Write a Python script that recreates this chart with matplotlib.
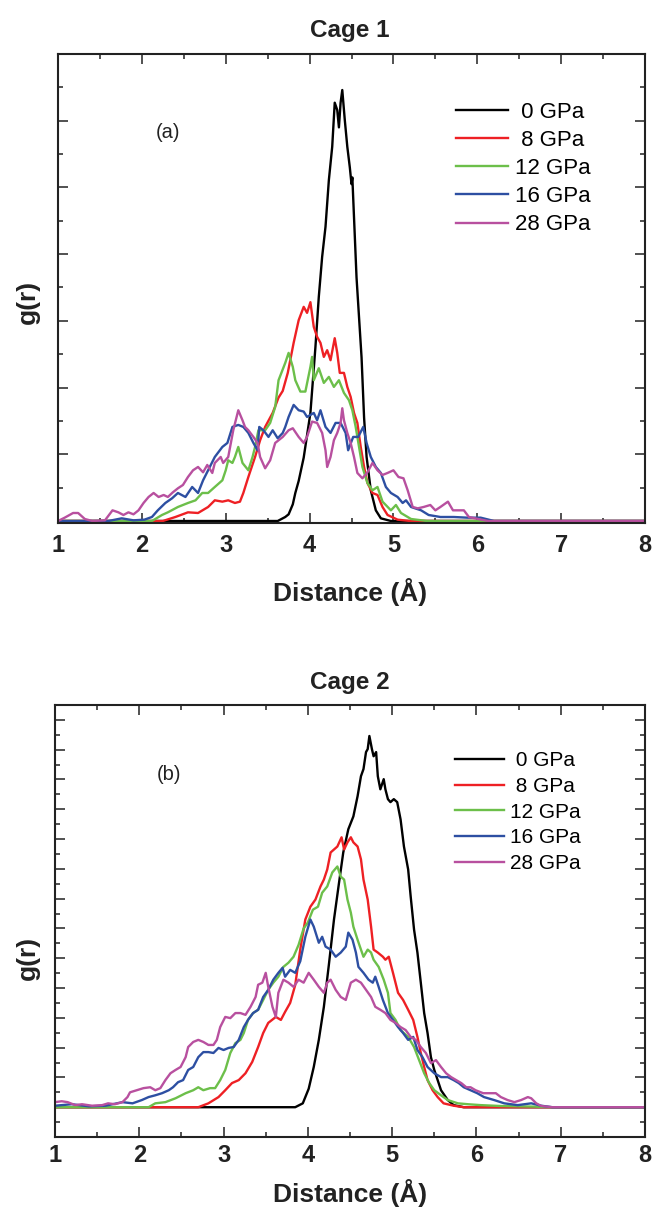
import matplotlib
matplotlib.use('Agg')
from matplotlib import pyplot as plt
from matplotlib.ticker import MultipleLocator

plt.rcParams['font.family'] = ['Liberation Sans', 'DejaVu Sans']

labels = [' 0 GPa', ' 8 GPa', '12 GPa', '16 GPa', '28 GPa']
colors = ['black', '#ee2024', '#6cbf4a', '#2d4fa2', '#b8509f']
xticks = [1, 2, 3, 4, 5, 6, 7, 8]

# cage 1: (distance in A, g(r))
cage1_0 = [(1.0, 0), (3.62, 0), (3.71, 0.06), (3.75, 0.1), (3.8, 0.25), (3.83, 0.42), (3.87, 0.6),
           (3.93, 0.95), (4.01, 1.62), (4.07, 2.61), (4.11, 3.36), (4.15, 3.96), (4.19, 4.41),
           (4.23, 5.11), (4.27, 5.61), (4.30, 6.27), (4.33, 6.16), (4.35, 5.9), (4.37, 6.27),
           (4.39, 6.46), (4.42, 6.01), (4.45, 5.61), (4.48, 5.30), (4.50, 5.05), (4.51, 5.15),
           (4.53, 4.55), (4.56, 3.65), (4.59, 3.05), (4.62, 2.45), (4.65, 1.55), (4.68, 0.96),
           (4.73, 0.46), (4.79, 0.16), (4.85, 0.04), (4.97, 0), (8.0, 0)]
cage1_8 = [(1.0, 0), (2.25, 0), (2.40, 0.06), (2.55, 0.13), (2.67, 0.12), (2.79, 0.21), (2.87, 0.31),
           (2.96, 0.29), (3.03, 0.31), (3.11, 0.27), (3.17, 0.29), (3.21, 0.42), (3.27, 0.66),
           (3.35, 0.96), (3.41, 1.21), (3.47, 1.41), (3.56, 1.62), (3.63, 1.85), (3.68, 1.95),
           (3.74, 2.22), (3.81, 2.67), (3.87, 3.01), (3.93, 3.21), (3.97, 3.12), (4.01, 3.28),
           (4.05, 2.91), (4.09, 2.76), (4.13, 2.67), (4.17, 2.46), (4.21, 2.56), (4.25, 2.41),
           (4.30, 2.74), (4.33, 2.52), (4.36, 2.22), (4.41, 2.22), (4.45, 2.01), (4.49, 1.86),
           (4.53, 1.62), (4.57, 1.47), (4.61, 1.11), (4.65, 0.81), (4.69, 0.57), (4.75, 0.42),
           (4.81, 0.39), (4.87, 0.21), (4.93, 0.09), (5.05, 0.02), (5.2, 0), (8.0, 0)]
cage1_12 = [(1.0, 0), (2.12, 0), (2.24, 0.09), (2.31, 0.13), (2.43, 0.21), (2.55, 0.27), (2.64, 0.31),
            (2.72, 0.42), (2.79, 0.42), (2.87, 0.51), (2.96, 0.61), (3.00, 0.76), (3.03, 0.91),
            (3.08, 0.87), (3.11, 0.96), (3.15, 1.11), (3.20, 0.87), (3.27, 0.76), (3.32, 0.96),
            (3.35, 1.11), (3.39, 1.36), (3.47, 1.36), (3.53, 1.47), (3.59, 1.71), (3.63, 2.11),
            (3.71, 2.37), (3.75, 2.52), (3.80, 2.31), (3.83, 2.11), (3.89, 1.94), (3.95, 1.94),
            (4.01, 2.31), (4.03, 2.46), (4.05, 2.11), (4.11, 2.29), (4.17, 2.07), (4.23, 2.16),
            (4.29, 2.01), (4.35, 2.11), (4.41, 1.92), (4.47, 1.81), (4.51, 1.66), (4.55, 1.41),
            (4.59, 1.11), (4.63, 0.81), (4.69, 0.57), (4.75, 0.46), (4.81, 0.51), (4.87, 0.29),
            (4.97, 0.16), (5.03, 0.24), (5.09, 0.12), (5.21, 0.03), (5.40, 0), (8.0, 0)]
cage1_16 = [(1.0, 0), (1.6, 0), (1.76, 0.04), (1.9, 0.01), (2.03, 0.02), (2.12, 0.06), (2.19, 0.16),
            (2.28, 0.27), (2.36, 0.34), (2.43, 0.42), (2.52, 0.36), (2.60, 0.51), (2.67, 0.42),
            (2.73, 0.61), (2.79, 0.76), (2.87, 0.96), (2.96, 1.11), (3.02, 1.17), (3.08, 1.41),
            (3.15, 1.44), (3.21, 1.41), (3.27, 1.32), (3.33, 1.17), (3.38, 1.06), (3.40, 1.41),
            (3.45, 1.36), (3.51, 1.26), (3.56, 1.36), (3.62, 1.24), (3.68, 1.32), (3.71, 1.41),
            (3.75, 1.56), (3.81, 1.74), (3.87, 1.66), (3.93, 1.64), (3.97, 1.56), (4.05, 1.62),
            (4.09, 1.51), (4.13, 1.66), (4.19, 1.41), (4.25, 1.32), (4.31, 1.47), (4.37, 1.47),
            (4.43, 1.32), (4.46, 1.06), (4.52, 1.26), (4.58, 1.26), (4.64, 1.41), (4.68, 1.17),
            (4.73, 0.96), (4.79, 0.81), (4.85, 0.72), (4.91, 0.51), (4.97, 0.42), (5.05, 0.36),
            (5.11, 0.27), (5.15, 0.31), (5.21, 0.21), (5.33, 0.16), (5.42, 0.09), (5.56, 0.06),
            (5.72, 0.06), (5.88, 0.05), (6.04, 0.05), (6.2, 0), (8.0, 0)]
cage1_28 = [(1.0, 0), (1.08, 0.05), (1.18, 0.12), (1.24, 0.12), (1.32, 0.03), (1.41, 0), (1.56, 0.01),
            (1.65, 0.16), (1.72, 0.13), (1.78, 0.09), (1.84, 0.13), (1.90, 0.10), (1.96, 0.16),
            (2.02, 0.27), (2.08, 0.36), (2.14, 0.42), (2.20, 0.36), (2.26, 0.39), (2.31, 0.36),
            (2.37, 0.43), (2.43, 0.49), (2.49, 0.54), (2.55, 0.66), (2.61, 0.76), (2.67, 0.81),
            (2.73, 0.73), (2.78, 0.84), (2.84, 0.72), (2.87, 0.87), (2.94, 0.96), (2.97, 0.87),
            (3.03, 0.96), (3.09, 1.36), (3.15, 1.66), (3.20, 1.51), (3.23, 1.41), (3.27, 1.36),
            (3.33, 1.26), (3.38, 1.17), (3.41, 0.96), (3.47, 0.79), (3.53, 0.91), (3.59, 1.17),
            (3.68, 1.26), (3.75, 1.36), (3.80, 1.39), (3.87, 1.26), (3.93, 1.17), (3.97, 1.26),
            (4.03, 1.49), (4.09, 1.47), (4.15, 1.32), (4.19, 1.06), (4.21, 0.81), (4.25, 0.96),
            (4.29, 1.21), (4.33, 1.32), (4.37, 1.47), (4.39, 1.69), (4.41, 1.51), (4.45, 1.32),
            (4.49, 1.17), (4.53, 0.96), (4.57, 0.72), (4.63, 0.64), (4.69, 0.73), (4.75, 0.87),
            (4.81, 0.76), (4.87, 0.69), (4.93, 0.72), (5.00, 0.76), (5.06, 0.66), (5.12, 0.64),
            (5.17, 0.46), (5.23, 0.21), (5.29, 0.19), (5.36, 0.21), (5.44, 0.24), (5.50, 0.16),
            (5.56, 0.21), (5.65, 0.29), (5.71, 0.16), (5.78, 0.16), (5.84, 0.16), (5.90, 0.06),
            (6.01, 0.03), (6.13, 0), (8.0, 0)]

# cage 2
cage2_0 = [(1.0, 0), (3.85, 0), (3.94, 0.13), (4.01, 0.62), (4.07, 1.35), (4.13, 2.26), (4.19, 3.37),
           (4.25, 4.8), (4.31, 6.30), (4.37, 7.54), (4.42, 8.55), (4.48, 9.33), (4.54, 9.76),
           (4.59, 10.44), (4.63, 11.11), (4.66, 11.35), (4.69, 11.92), (4.71, 12.02), (4.73, 12.46),
           (4.76, 12.02), (4.78, 11.78), (4.81, 11.92), (4.83, 11.11), (4.86, 10.67), (4.90, 11.01),
           (4.92, 10.67), (4.95, 10.34), (4.98, 10.24), (5.02, 10.34), (5.06, 10.24), (5.10, 9.66),
           (5.14, 8.75), (5.19, 7.98), (5.22, 7.07), (5.26, 5.96), (5.30, 5.19), (5.34, 4.18),
           (5.38, 3.16), (5.42, 2.49), (5.46, 1.68), (5.50, 1.25), (5.54, 0.91), (5.58, 0.57),
           (5.66, 0.24), (5.73, 0.07), (5.85, 0), (8.0, 0)]
cage2_8 = [(1.0, 0), (2.70, 0), (2.82, 0.13), (2.94, 0.34), (3.02, 0.57), (3.10, 0.81), (3.18, 0.91),
           (3.26, 1.14), (3.34, 1.52), (3.41, 2.02), (3.47, 2.49), (3.53, 2.83), (3.62, 3.03),
           (3.68, 2.93), (3.73, 3.20), (3.79, 3.50), (3.85, 4.1), (3.91, 5.3), (3.97, 6.3),
           (4.03, 6.73), (4.09, 6.97), (4.15, 7.41), (4.19, 7.64), (4.23, 7.98), (4.27, 8.55),
           (4.31, 8.65), (4.35, 8.75), (4.40, 9.06), (4.43, 8.65), (4.47, 8.89), (4.51, 9.06),
           (4.54, 8.89), (4.59, 8.75), (4.63, 8.32), (4.66, 7.64), (4.71, 6.97), (4.75, 6.06),
           (4.78, 5.29), (4.83, 5.19), (4.89, 5.05), (4.92, 4.95), (4.96, 5.05), (5.01, 4.51),
           (5.07, 3.84), (5.13, 3.60), (5.19, 3.27), (5.25, 2.93), (5.30, 2.36), (5.34, 1.82),
           (5.38, 1.35), (5.42, 0.91), (5.48, 0.57), (5.54, 0.34), (5.61, 0.13), (5.73, 0.05),
           (5.85, 0), (8.0, 0)]
cage2_12 = [(1.0, 0), (2.11, 0), (2.19, 0.13), (2.31, 0.17), (2.43, 0.30), (2.55, 0.47), (2.64, 0.57),
            (2.70, 0.67), (2.76, 0.57), (2.84, 0.64), (2.90, 0.64), (2.96, 0.91), (3.02, 1.25),
            (3.08, 1.82), (3.14, 2.15), (3.20, 2.26), (3.24, 2.49), (3.29, 2.93), (3.35, 3.16),
            (3.41, 3.27), (3.47, 3.60), (3.53, 3.94), (3.59, 4.18), (3.65, 4.38), (3.71, 4.71),
            (3.77, 4.85), (3.83, 5.05), (3.89, 5.45), (3.95, 6.0), (4.00, 6.2), (4.06, 6.63),
            (4.12, 6.73), (4.17, 7.20), (4.23, 7.41), (4.29, 7.88), (4.35, 8.08), (4.39, 7.74),
            (4.43, 7.64), (4.47, 6.97), (4.51, 6.53), (4.54, 6.06), (4.59, 5.62), (4.63, 5.29),
            (4.66, 5.05), (4.71, 5.29), (4.75, 5.19), (4.78, 4.95), (4.84, 4.71), (4.90, 4.28),
            (4.95, 3.84), (4.98, 3.16), (5.04, 2.93), (5.10, 2.59), (5.19, 2.36), (5.26, 2.02),
            (5.32, 1.58), (5.38, 1.14), (5.44, 0.81), (5.50, 0.57), (5.58, 0.40), (5.66, 0.24),
            (5.78, 0.13), (5.90, 0.10), (6.05, 0.07), (6.29, 0.04), (6.68, 0.02), (6.9, 0), (8.0, 0)]
cage2_16 = [(1.0, 0.05), (1.20, 0.10), (1.40, 0.03), (1.60, 0.05), (1.80, 0.17), (1.92, 0.13),
            (2.03, 0.24), (2.11, 0.34), (2.19, 0.40), (2.27, 0.47), (2.35, 0.57), (2.40, 0.67),
            (2.46, 0.84), (2.52, 0.91), (2.58, 1.25), (2.64, 1.35), (2.70, 1.68), (2.76, 1.85),
            (2.82, 1.85), (2.88, 1.82), (2.94, 1.99), (3.00, 1.92), (3.06, 1.99), (3.12, 2.02),
            (3.18, 2.26), (3.24, 2.69), (3.29, 2.93), (3.35, 3.16), (3.41, 3.27), (3.47, 3.70),
            (3.53, 3.94), (3.59, 4.28), (3.65, 4.51), (3.70, 4.68), (3.73, 4.38), (3.79, 4.61),
            (3.85, 4.51), (3.91, 4.9), (3.97, 5.72), (4.03, 6.30), (4.07, 6.06), (4.13, 5.52),
            (4.17, 5.72), (4.21, 5.39), (4.27, 5.29), (4.33, 5.05), (4.39, 5.19), (4.45, 5.39),
            (4.48, 5.86), (4.53, 5.62), (4.57, 5.19), (4.60, 4.71), (4.66, 4.51), (4.72, 4.28),
            (4.77, 4.18), (4.80, 4.38), (4.84, 4.04), (4.89, 3.60), (4.95, 3.16), (5.01, 2.93),
            (5.07, 2.69), (5.13, 2.49), (5.19, 2.26), (5.25, 2.36), (5.30, 1.92), (5.36, 1.68),
            (5.42, 1.35), (5.50, 1.14), (5.58, 1.01), (5.66, 1.01), (5.73, 0.91), (5.79, 0.81),
            (5.85, 0.67), (5.93, 0.57), (6.01, 0.47), (6.09, 0.34), (6.21, 0.24), (6.33, 0.13),
            (6.49, 0.07), (6.65, 0.13), (6.77, 0.05), (6.9, 0), (8.0, 0)]
cage2_28 = [(1.0, 0.17), (1.08, 0.20), (1.15, 0.17), (1.24, 0.07), (1.32, 0.10), (1.44, 0.05),
            (1.56, 0.07), (1.63, 0.13), (1.71, 0.10), (1.80, 0.17), (1.86, 0.34), (1.89, 0.50),
            (1.97, 0.57), (2.05, 0.64), (2.13, 0.67), (2.19, 0.57), (2.25, 0.64), (2.31, 0.91),
            (2.37, 1.14), (2.43, 1.25), (2.49, 1.35), (2.55, 1.68), (2.58, 2.02), (2.64, 2.19),
            (2.70, 2.26), (2.76, 2.19), (2.82, 2.09), (2.88, 2.09), (2.92, 2.26), (2.96, 2.69),
            (3.02, 3.03), (3.08, 2.99), (3.14, 3.16), (3.20, 3.16), (3.26, 3.10), (3.32, 3.37),
            (3.38, 3.70), (3.41, 4.11), (3.46, 4.18), (3.50, 4.51), (3.53, 4.04), (3.58, 3.37),
            (3.62, 3.03), (3.65, 3.84), (3.71, 4.28), (3.77, 4.18), (3.83, 4.04), (3.89, 4.28),
            (3.95, 4.18), (4.01, 4.51), (4.07, 4.28), (4.13, 4.04), (4.19, 3.84), (4.23, 4.18),
            (4.27, 4.28), (4.33, 3.94), (4.39, 3.70), (4.45, 3.60), (4.51, 4.18), (4.57, 4.28),
            (4.63, 4.18), (4.69, 3.94), (4.75, 3.70), (4.80, 3.37), (4.86, 3.27), (4.92, 3.16),
            (4.98, 2.93), (5.04, 2.83), (5.10, 2.69), (5.16, 2.59), (5.22, 2.36), (5.28, 2.26),
            (5.34, 2.02), (5.40, 1.82), (5.46, 1.48), (5.52, 1.58), (5.58, 1.35), (5.64, 1.14),
            (5.70, 1.01), (5.76, 0.91), (5.82, 0.81), (5.88, 0.67), (5.93, 0.67), (5.99, 0.57),
            (6.08, 0.47), (6.15, 0.47), (6.23, 0.47), (6.29, 0.34), (6.37, 0.24), (6.45, 0.17),
            (6.53, 0.24), (6.61, 0.34), (6.65, 0.30), (6.71, 0.13), (6.77, 0.04), (6.9, 0), (8.0, 0)]

W, H = 654, 1209
fig = plt.figure(figsize=(W / 100, H / 100), dpi=100)

# axes boxes from pixel positions
ax1 = fig.add_axes([58 / W, 1 - 523 / H, 587 / W, 469 / H])
ax2 = fig.add_axes([55 / W, 1 - 1137 / H, 590 / W, 432 / H])


def panel(ax, series, ylim, tag, tag_xy, leg_xy, leg_fs, pad):
    for s, c, l in zip(series, colors, labels):
        x, g = zip(*s)
        ax.plot(x, g, color=c, lw=1.7, label=l)
    ax.set_xlim(1, 8)
    ax.set_ylim(*ylim)
    ax.set_xticks(xticks)
    ax.set_xticklabels([str(t) for t in xticks], fontweight='bold', fontsize=17)
    ax.xaxis.set_minor_locator(MultipleLocator(0.5))
    ax.yaxis.set_major_locator(MultipleLocator(1))
    ax.yaxis.set_minor_locator(MultipleLocator(0.5))
    ax.tick_params(which='both', direction='in', top=True, right=True,
                   labelleft=False, width=1.1, color='#222222', labelcolor='#222222')
    ax.tick_params(which='major', length=7)
    ax.tick_params(which='minor', length=3.5)
    ax.tick_params(axis='x', pad=pad)
    for sp in ax.spines.values():
        sp.set_linewidth(1.5)
        sp.set_color('#222222')
    ax.text(tag_xy[0], tag_xy[1], tag, transform=ax.transAxes,
            ha='center', va='center', fontsize=14.5, color='#222222')
    ax.legend(loc='upper left', bbox_to_anchor=leg_xy, frameon=False, fontsize=leg_fs,
              handlelength=2.35, handletextpad=0.3, labelspacing=0.32,
              borderpad=0, borderaxespad=0)


panel(ax1, [cage1_0, cage1_8, cage1_12, cage1_16, cage1_28], (-0.03, 7),
      '(a)', (0.187, 0.832), (0.678, 0.898), 16, 8)
panel(ax2, [cage2_0, cage2_8, cage2_12, cage2_16, cage2_28], (-1, 13.5),
      '(b)', (0.193, 0.840), (0.678, 0.893), 15, 5)

# titles and axis labels, placed in figure pixels
bold = dict(fontweight='bold', ha='center', va='center', color='#222222')
fig.text(350 / W, 1 - 30 / H, 'Cage 1', fontsize=17.5, **bold)
fig.text(350 / W, 1 - 682 / H, 'Cage 2', fontsize=17.5, **bold)
fig.text(350 / W, 1 - 592 / H, 'Distance (Å)', fontsize=19, **bold)
fig.text(350 / W, 1 - 1193 / H, 'Distance (Å)', fontsize=19, **bold)
fig.text(28 / W, 1 - 302 / H, 'g(r)', fontsize=19, rotation=90, **bold)
fig.text(28 / W, 1 - 958 / H, 'g(r)', fontsize=19, rotation=90, **bold)

fig.savefig('out.png', dpi=100)
